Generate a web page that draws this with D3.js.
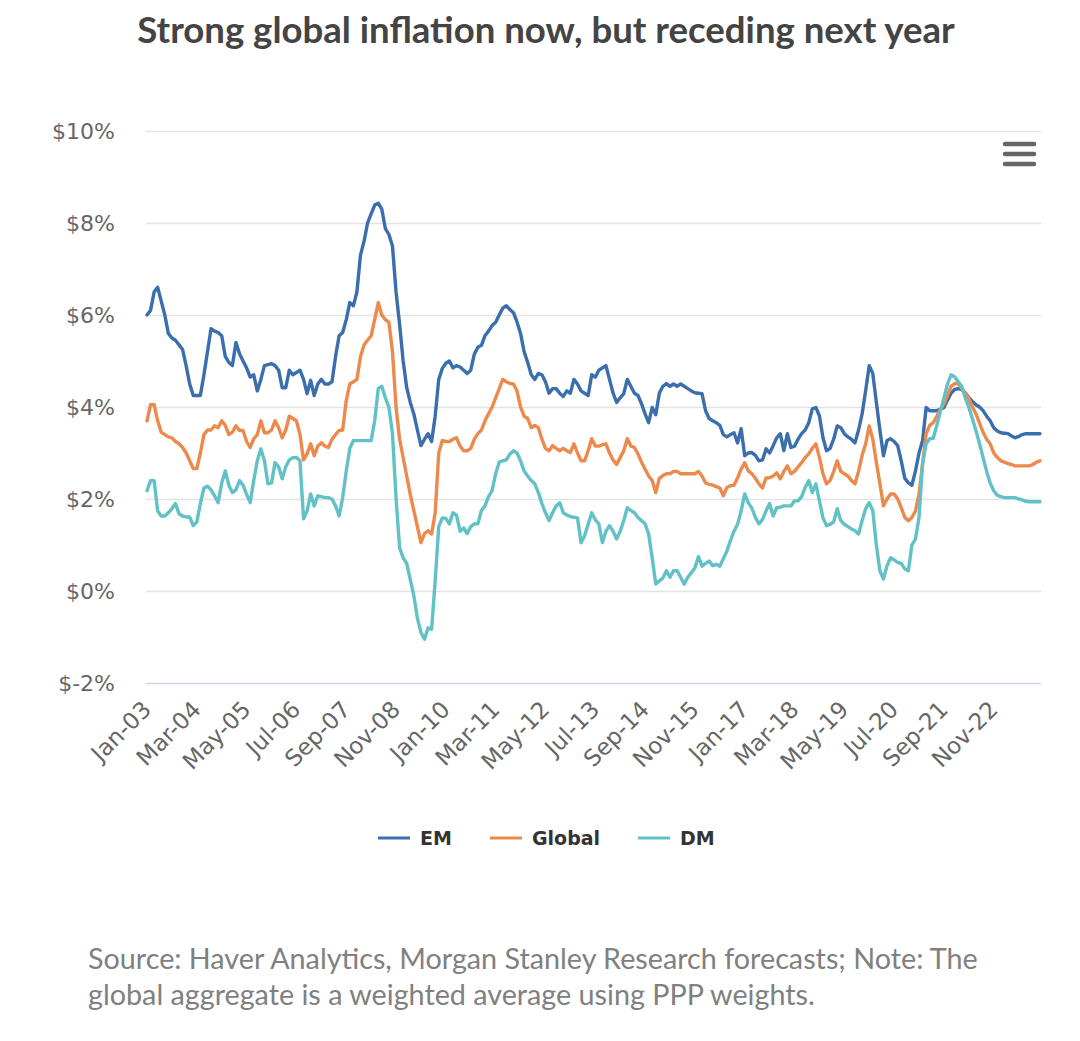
<!DOCTYPE html>
<html><head><meta charset="utf-8">
<script src="https://cdn.jsdelivr.net/npm/d3@7"></script>
<style>
html,body{margin:0;padding:0;background:#fff;}
svg{display:block;}
</style></head>
<body>
<svg id="chart" width="1080" height="1041"></svg>
<script>
// ---- Data (monthly, Jan-2003 .. Dec-2023) ----
const startYear = 2003, startMonth = 0, nMonths = 252;
const tickLabels = ["Jan-03","Mar-04","May-05","Jul-06","Sep-07","Nov-08","Jan-10","Mar-11","May-12","Jul-13","Sep-14","Nov-15","Jan-17","Mar-18","May-19","Jul-20","Sep-21","Nov-22"];
const yTicks = [-2,0,2,4,6,8,10];
const seriesNames = ["EM","Global","DM"];

const em = [
6.0,6.1,6.5,6.6,6.3,6.0,5.6,5.5,5.45,5.35,5.25,4.9,
4.5,4.25,4.25,4.25,4.7,5.2,5.7,5.65,5.62,5.55,5.1,4.97,
4.9,5.4,5.16,5.0,4.85,4.65,4.7,4.35,4.6,4.9,4.92,4.94,
4.9,4.8,4.42,4.42,4.8,4.7,4.75,4.8,4.6,4.29,4.58,4.25,
4.5,4.6,4.5,4.5,4.55,5.1,5.55,5.62,5.9,6.27,6.2,6.5,
7.3,7.6,8.0,8.2,8.39,8.43,8.3,7.88,7.75,7.5,6.5,5.8,
5.0,4.42,4.1,3.85,3.5,3.16,3.3,3.42,3.25,3.8,4.6,4.84,
4.95,5.0,4.85,4.9,4.87,4.8,4.73,4.8,5.15,5.3,5.34,5.55,
5.65,5.77,5.84,6.0,6.15,6.2,6.12,6.05,5.85,5.6,5.2,4.97,
4.7,4.6,4.73,4.7,4.55,4.3,4.4,4.4,4.3,4.23,4.35,4.3,
4.6,4.5,4.35,4.3,4.25,4.7,4.65,4.8,4.85,4.9,4.6,4.3,
4.1,4.2,4.29,4.6,4.45,4.3,4.25,4.07,3.85,3.66,3.99,3.83,
4.3,4.45,4.51,4.45,4.5,4.45,4.5,4.45,4.4,4.35,4.31,4.3,
4.29,3.92,3.75,3.7,3.66,3.6,3.4,3.35,3.4,3.44,3.22,3.53,
2.94,3.0,3.01,2.95,2.83,2.85,3.09,3.0,3.16,3.33,3.42,3.05,
3.42,3.12,3.15,3.3,3.42,3.5,3.66,3.96,3.99,3.81,3.33,3.05,
3.1,3.3,3.59,3.55,3.42,3.35,3.3,3.22,3.5,3.85,4.36,4.9,
4.73,4.1,3.5,2.94,3.27,3.31,3.25,3.16,2.83,2.45,2.35,2.3,
2.61,3.0,3.27,3.99,3.92,3.92,3.92,3.95,3.99,4.15,4.3,4.38,
4.4,4.38,4.31,4.2,4.12,4.05,4.0,3.92,3.8,3.7,3.55,3.48,
3.44,3.43,3.42,3.37,3.33,3.36,3.4,3.42,3.42,3.42,3.42,3.42
];
const globalS = [
3.7,4.05,4.05,3.7,3.45,3.4,3.35,3.33,3.25,3.2,3.12,3.0,
2.83,2.66,2.66,3.0,3.4,3.5,3.5,3.59,3.55,3.7,3.6,3.4,
3.45,3.59,3.49,3.49,3.25,3.12,3.31,3.4,3.7,3.44,3.44,3.5,
3.7,3.55,3.33,3.5,3.8,3.75,3.7,3.4,2.85,2.98,3.2,2.94,
3.15,3.22,3.15,3.12,3.3,3.4,3.49,3.5,4.14,4.5,4.55,4.6,
5.1,5.35,5.45,5.55,5.9,6.27,6.0,5.9,5.84,5.2,4.0,3.3,
2.9,2.5,2.1,1.75,1.4,1.05,1.25,1.31,1.24,1.7,3.0,3.27,
3.25,3.25,3.3,3.33,3.15,3.05,3.05,3.1,3.3,3.42,3.5,3.7,
3.85,4.0,4.2,4.4,4.6,4.55,4.51,4.5,4.35,4.0,3.8,3.75,
3.55,3.6,3.55,3.3,3.1,3.05,3.16,3.1,3.05,3.1,3.05,3.01,
3.2,3.0,2.83,2.83,3.05,3.31,3.15,3.15,3.18,3.2,3.0,2.85,
2.75,2.9,3.05,3.31,3.15,3.12,2.98,2.8,2.65,2.5,2.4,2.14,
2.45,2.51,2.55,2.55,2.6,2.6,2.55,2.55,2.55,2.55,2.55,2.6,
2.5,2.35,2.32,2.3,2.27,2.24,2.07,2.25,2.29,2.3,2.46,2.65,
2.79,2.61,2.55,2.45,2.33,2.24,2.46,2.46,2.5,2.57,2.44,2.6,
2.72,2.55,2.6,2.7,2.79,2.9,2.98,3.1,3.2,2.9,2.55,2.33,
2.4,2.6,2.83,2.6,2.55,2.5,2.4,2.33,2.6,2.95,3.2,3.59,
3.3,2.8,2.33,1.85,2.0,2.11,2.11,2.0,1.81,1.6,1.53,1.6,
1.74,2.11,2.77,3.42,3.6,3.66,3.8,3.95,4.07,4.25,4.45,4.51,
4.51,4.4,4.3,4.18,4.0,3.85,3.65,3.45,3.3,3.2,3.0,2.9,
2.83,2.8,2.77,2.75,2.72,2.72,2.72,2.72,2.72,2.75,2.8,2.83
];
const dm = [
2.18,2.4,2.4,1.74,1.63,1.63,1.7,1.79,1.9,1.68,1.63,1.61,
1.61,1.42,1.5,1.9,2.24,2.28,2.2,2.07,1.92,2.35,2.61,2.3,
2.14,2.2,2.4,2.3,2.1,1.92,2.4,2.83,3.09,2.83,2.33,2.35,
2.79,2.7,2.44,2.7,2.85,2.9,2.9,2.83,1.57,1.74,2.11,1.85,
2.07,2.05,2.03,2.03,2.0,1.85,1.63,2.03,2.61,3.1,3.27,3.27,
3.27,3.27,3.27,3.27,3.7,4.4,4.45,4.2,3.99,3.42,2.03,0.94,
0.72,0.6,0.25,-0.1,-0.59,-0.9,-1.05,-0.8,-0.83,0.22,1.4,1.59,
1.58,1.46,1.7,1.65,1.3,1.37,1.25,1.4,1.46,1.46,1.75,1.85,
2.05,2.18,2.55,2.8,2.83,2.85,2.98,3.05,3.0,2.83,2.61,2.5,
2.4,2.33,2.14,1.9,1.7,1.53,1.7,1.85,1.92,1.7,1.65,1.62,
1.6,1.59,1.05,1.2,1.45,1.7,1.55,1.46,1.05,1.3,1.42,1.3,
1.13,1.3,1.53,1.81,1.75,1.7,1.6,1.53,1.46,1.24,0.72,0.15,
0.22,0.28,0.44,0.3,0.44,0.44,0.3,0.15,0.3,0.4,0.5,0.75,
0.54,0.6,0.65,0.55,0.58,0.54,0.7,0.87,1.1,1.3,1.45,1.74,
2.11,1.92,1.8,1.6,1.46,1.55,1.74,1.9,1.63,1.81,1.82,1.85,
1.85,1.85,1.96,1.96,2.05,2.25,2.4,2.14,2.33,1.96,1.59,1.42,
1.45,1.5,1.79,1.53,1.45,1.4,1.35,1.31,1.24,1.53,1.79,1.92,
1.75,1.0,0.44,0.26,0.55,0.72,0.68,0.62,0.6,0.48,0.44,1.0,
1.13,1.6,2.77,3.2,3.31,3.32,3.6,3.9,4.2,4.5,4.7,4.66,
4.55,4.45,4.2,3.99,3.75,3.49,3.2,2.9,2.6,2.35,2.18,2.08,
2.05,2.03,2.03,2.03,2.03,2.0,1.98,1.95,1.94,1.94,1.94,1.94
];
const colors = ["#3a6ead","#ec8a4d","#62c1c6"];

// ---- Chart ----
const svg = d3.select("#chart");
const plotLeft = 147, plotRight = 1040, plotTop = 131, plotBottom = 683;
const monthLabel = i => {
  const m = ["Jan","Feb","Mar","Apr","May","Jun","Jul","Aug","Sep","Oct","Nov","Dec"];
  const t = startMonth + i; const yr = startYear + Math.floor(t/12);
  return m[t%12] + "-" + String(yr).slice(2);
};
const categories = d3.range(nMonths).map(monthLabel);
const x = d3.scalePoint().domain(categories).range([plotLeft, plotRight]);
const y = d3.scaleLinear().domain([-2, 10]).range([plotBottom, plotTop]);

// Title
const title = svg.append("text").attr("x", 546).attr("y", 43).attr("text-anchor","middle")
  .style("font-family","Lato, 'Open Sans', sans-serif").style("font-weight","700")
  .style("font-size","33px").style("fill","#444")
  .text("Strong global inflation now, but receding next year");
const tw = title.node().getComputedTextLength();
title.style("font-size", (33*818/tw).toFixed(2)+"px");

// Gridlines + y labels
const yAxis = d3.axisLeft(y).tickValues(yTicks).tickSize(-(1041-146)).tickFormat(d => "$" + d + "%");
const gy = svg.append("g").attr("transform", `translate(146,0)`).call(yAxis);
gy.select(".domain").remove();
gy.selectAll(".tick line").attr("stroke","#e3e3e3").attr("stroke-width",1.5);
gy.selectAll(".tick").filter(d => d === -2).select("line").attr("stroke","#ccd6eb");
gy.selectAll(".tick text").attr("x", -31).attr("dy","0.35em")
  .style("font-family","'DejaVu Sans', sans-serif").style("font-size","22px").style("fill","#666");

// X axis labels
const xAxis = d3.axisBottom(x).tickValues(tickLabels).tickSize(0);
const gx = svg.append("g").attr("transform", `translate(0,${plotBottom})`).call(xAxis);
gx.select(".domain").remove();
gx.selectAll(".tick text")
  .attr("text-anchor","end").attr("dy",null).attr("y",0)
  .attr("transform","translate(5,28) rotate(-45)")
  .style("font-family","'DejaVu Sans', sans-serif").style("font-size","23px").style("fill","#666");

// Lines
const seriesData = [em, globalS, dm];
const line = d3.line().x((d,i) => x(categories[i])).y(d => y(d));
svg.append("g").selectAll("path").data(seriesData).join("path")
  .attr("d", line).attr("fill","none")
  .attr("stroke", (d,i) => colors[i]).attr("stroke-width", 3.4)
  .attr("stroke-linejoin","round").attr("stroke-linecap","round");

// Legend
const legendX = [378, 490, 638];
const lg = svg.append("g");
seriesNames.forEach((name, i) => {
  const lx = legendX[i];
  lg.append("line").attr("x1", lx).attr("x2", lx+32).attr("y1", 838).attr("y2", 838)
    .attr("stroke", colors[i]).attr("stroke-width", 3);
  lg.append("text").attr("x", lx+42).attr("y", 845)
    .style("font-family","'DejaVu Sans', sans-serif").style("font-weight","700")
    .style("font-size","19px").style("fill","#333").text(name);
});

// Menu icon
const menu = svg.append("g");
[144,154,164].forEach(yy => menu.append("line").attr("x1",1005).attr("x2",1034)
  .attr("y1",yy).attr("y2",yy).attr("stroke","#666").attr("stroke-width",4.5).attr("stroke-linecap","round"));

// Source note
const src1 = svg.append("text").attr("x", 88).attr("y", 969)
  .style("font-family","Lato, 'Open Sans', sans-serif").style("font-size","24px").style("fill","#808080")
  .text("Source: Haver Analytics, Morgan Stanley Research forecasts; Note: The");
const sw = src1.node().getComputedTextLength();
const fs = 24*890/sw;
src1.style("font-size", fs.toFixed(2)+"px");
svg.append("text").attr("x", 88).attr("y", 1005)
  .style("font-family","Lato, 'Open Sans', sans-serif").style("font-size", fs.toFixed(2)+"px").style("fill","#808080")
  .text("global aggregate is a weighted average using PPP weights.");
</script>
</body></html>
